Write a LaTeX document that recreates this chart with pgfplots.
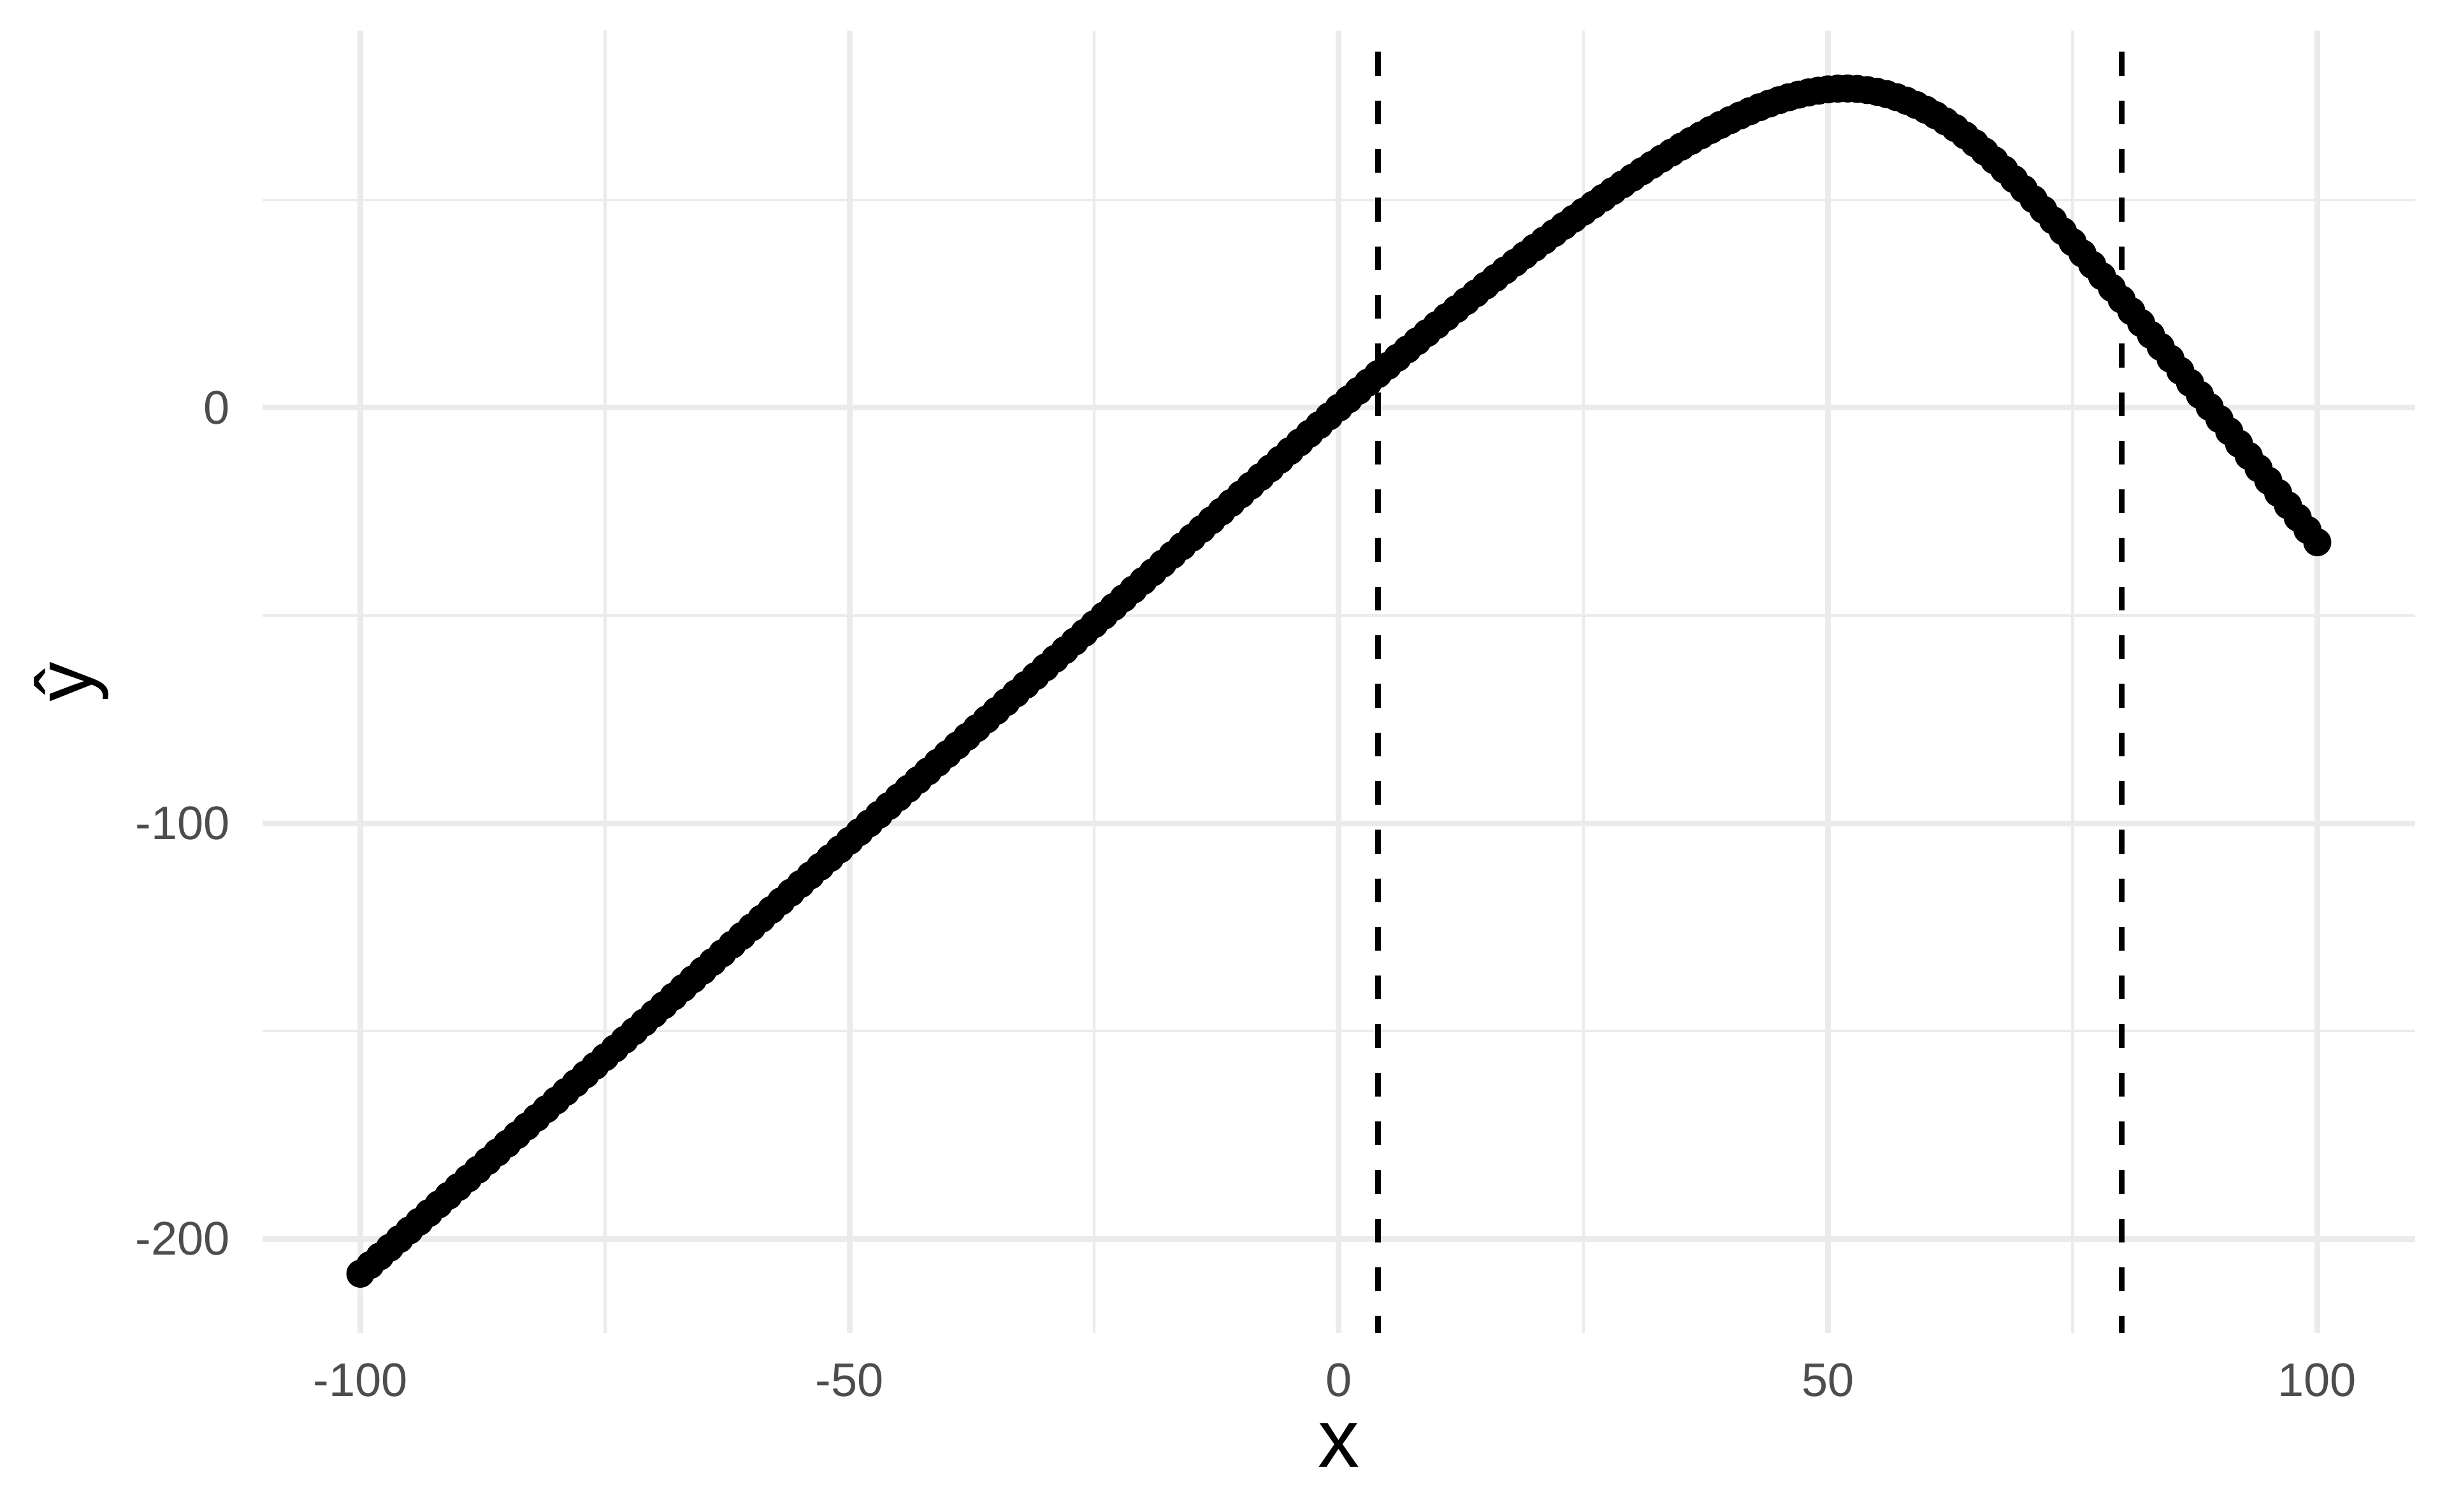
\documentclass[border=0pt]{standalone}
\usepackage{fontspec}
\setmainfont{Liberation Sans}
\usepackage{pgfplots}
\pgfplotsset{compat=1.18}
\definecolor{gridgray}{HTML}{EBEBEB}
\definecolor{ticktext}{HTML}{4D4D4D}

\begin{document}
\begin{tikzpicture}
\useasboundingbox (-41.2pt,-28.1pt) rectangle (342.8pt,209.2pt);
\begin{axis}[
    scale only axis,
    width=337.8pt, height=204.35pt,
    xmin=-110, xmax=110,
    ymin=-222.65, ymax=90.7,
    xtick={-100,-50,0,50,100},
    xticklabels={-100,-50,0,50,100},
    minor xtick={-75,-25,25,75},
    ytick={-200,-100,0},
    yticklabels={-200,-100,0},
    minor ytick={-150,-50,50},
    grid=both,
    major grid style={line width=0.9pt, gridgray},
    minor grid style={line width=0.45pt, gridgray},
    axis line style={draw=none},
    tick style={draw=none},
    major tick length=0pt, minor tick length=0pt,
    xticklabel style={anchor=north, inner sep=0pt, yshift=-4.6pt,
        font=\fontsize{7.4}{8}\selectfont, text=ticktext},
    yticklabel style={anchor=east, inner sep=0pt, xshift=-4.9pt,
        font=\fontsize{7.4}{8}\selectfont, text=ticktext},
    xlabel={x},
    every axis x label/.style={at={(axis description cs:0.5,0)}, anchor=base,
        yshift=-21.1pt, inner sep=0pt, font=\fontsize{13}{15}\selectfont},
    ylabel={ŷ},
    every axis y label/.style={at={([xshift=-26.7pt]axis description cs:0,0.5)},
        rotate=90, anchor=base, inner sep=0pt, font=\fontsize{12.5}{14}\selectfont},
    clip=false,
]
% cut-off lines
\addplot[black, line width=0.9pt, dash pattern=on 3.73pt off 3.9pt, dash phase=4.33pt]
    coordinates {(4,90.7) (4,-222.65)};
\addplot[black, line width=0.9pt, dash pattern=on 3.73pt off 3.9pt, dash phase=4.33pt]
    coordinates {(80,90.7) (80,-222.65)};
% predictions
\addplot[only marks, mark=*, mark size=2pt, mark options={fill=black, draw=none}] table {
x y
-100 -208.40
-99 -206.32
-98 -204.23
-97 -202.15
-96 -200.06
-95 -197.98
-94 -195.90
-93 -193.81
-92 -191.73
-91 -189.64
-90 -187.56
-89 -185.48
-88 -183.39
-87 -181.31
-86 -179.22
-85 -177.14
-84 -175.06
-83 -172.97
-82 -170.89
-81 -168.80
-80 -166.72
-79 -164.64
-78 -162.55
-77 -160.47
-76 -158.38
-75 -156.30
-74 -154.22
-73 -152.13
-72 -150.05
-71 -147.96
-70 -145.88
-69 -143.80
-68 -141.71
-67 -139.63
-66 -137.54
-65 -135.46
-64 -133.38
-63 -131.29
-62 -129.21
-61 -127.12
-60 -125.04
-59 -122.96
-58 -120.87
-57 -118.79
-56 -116.70
-55 -114.62
-54 -112.54
-53 -110.45
-52 -108.37
-51 -106.28
-50 -104.20
-49 -102.12
-48 -100.03
-47 -97.95
-46 -95.86
-45 -93.78
-44 -91.70
-43 -89.61
-42 -87.53
-41 -85.44
-40 -83.36
-39 -81.28
-38 -79.19
-37 -77.11
-36 -75.02
-35 -72.94
-34 -70.86
-33 -68.77
-32 -66.69
-31 -64.60
-30 -62.52
-29 -60.44
-28 -58.35
-27 -56.27
-26 -54.18
-25 -52.10
-24 -50.02
-23 -47.93
-22 -45.85
-21 -43.76
-20 -41.68
-19 -39.60
-18 -37.51
-17 -35.43
-16 -33.34
-15 -31.26
-14 -29.18
-13 -27.09
-12 -25.01
-11 -22.92
-10 -20.84
-9 -18.76
-8 -16.67
-7 -14.59
-6 -12.50
-5 -10.42
-4 -8.34
-3 -6.25
-2 -4.17
-1 -2.08
0 0.00
1 2.03
2 4.06
3 6.07
4 8.08
5 10.07
6 12.05
7 14.03
8 15.99
9 17.95
10 19.89
11 21.82
12 23.73
13 25.63
14 27.52
15 29.39
16 31.24
17 33.08
18 34.90
19 36.71
20 38.51
21 40.28
22 42.03
23 43.77
24 45.48
25 47.18
26 48.85
27 50.50
28 52.14
29 53.75
30 55.35
31 56.91
32 58.44
33 59.95
34 61.41
35 62.84
36 64.22
37 65.55
38 66.84
39 68.06
40 69.23
41 70.33
42 71.36
43 72.33
44 73.21
45 74.02
46 74.73
47 75.35
48 75.88
49 76.30
50 76.62
51 76.80
52 76.83
53 76.72
54 76.45
55 76.04
56 75.47
57 74.75
58 73.89
59 72.87
60 71.71
61 70.39
62 68.92
63 67.31
64 65.55
65 63.67
66 61.66
67 59.54
68 57.33
69 55.02
70 52.64
71 50.18
72 47.66
73 45.10
74 42.48
75 39.83
76 37.13
77 34.40
78 31.65
79 28.86
80 26.06
81 23.23
82 20.38
83 17.53
84 14.66
85 11.79
86 8.90
87 6.00
88 3.11
89 0.20
90 -2.71
91 -5.67
92 -8.64
93 -11.60
94 -14.57
95 -17.54
96 -20.50
97 -23.47
98 -26.43
99 -29.40
100 -32.37
};
\end{axis}
\end{tikzpicture}
\end{document}
